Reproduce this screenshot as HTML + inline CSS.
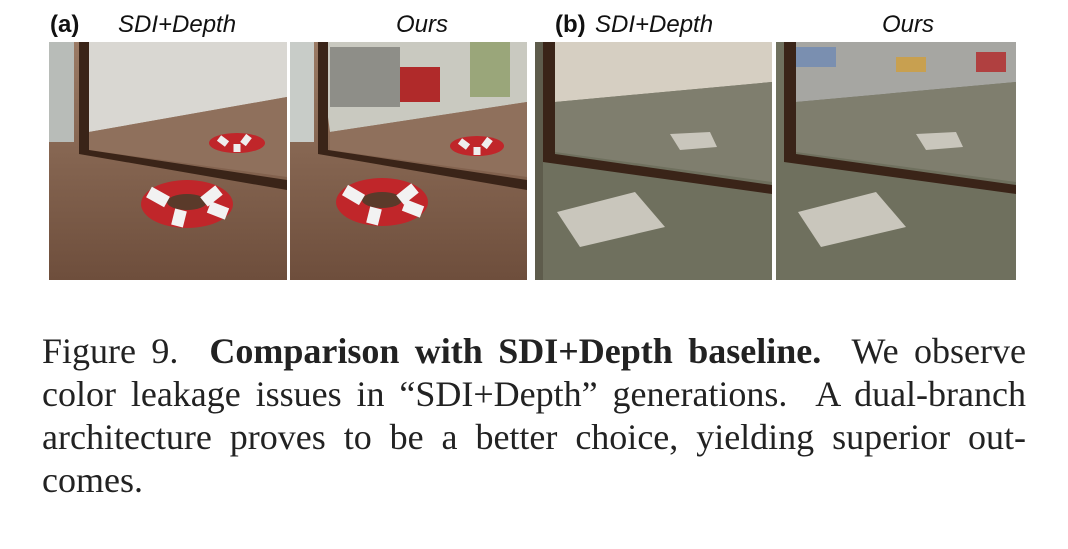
<!DOCTYPE html>
<html><head><meta charset="utf-8"><style>
html,body{margin:0;padding:0;background:#fff;width:1068px;height:549px;overflow:hidden;position:relative}
.lab{position:absolute;top:11px;font-family:"Liberation Sans",sans-serif;font-size:24px;color:#111}
.it{font-style:italic}
svg{position:absolute;top:42px}
.cap{position:absolute;left:42px;top:330px;width:984px;font-family:"Liberation Serif",serif;font-size:36px;line-height:43px;color:#222}
.cap div{text-align:justify;text-align-last:justify;white-space:nowrap}
.cap div.l{text-align-last:left}
</style></head><body>
<div class="lab" style="left:50px;font-weight:bold">(a)</div>
<div class="lab it" style="left:118px">SDI+Depth</div>
<div class="lab it" style="left:396px">Ours</div>
<div class="lab" style="left:555px;font-weight:bold">(b)</div>
<div class="lab it" style="left:595px">SDI+Depth</div>
<div class="lab it" style="left:882px">Ours</div>

<svg style="left:49px" width="238" height="238">
<defs><linearGradient id="w" x1="0" y1="0" x2="0" y2="1"><stop offset="0" stop-color="#9a7a64"/><stop offset="1" stop-color="#6e4e3c"/></linearGradient></defs>
<rect width="238" height="238" fill="url(#w)"/>
<polygon points="0,0 238,0 238,55 40,90 30,0" fill="#d9d7d2"/>
<polygon points="40,90 238,55 238,135 40,108" fill="#8f705c"/>
<rect x="0" y="0" width="25" height="100" fill="#b8bcb8"/>
<polygon points="30,0 40,0 40,108 238,138 238,148 30,112" fill="#3a2418"/>
<ellipse cx="138" cy="162" rx="46" ry="24" fill="#c0262a"/><ellipse cx="138" cy="160" rx="20" ry="8" fill="#5a3a2a"/>
<path d="M100 150 L118 160 M170 148 L155 160 M128 184 L132 168 M178 172 L160 165" stroke="#f2f2f2" stroke-width="12"/>
<ellipse cx="188" cy="101" rx="28" ry="10" fill="#c0262a"/><path d="M170 96l8 6M200 94l-6 8M188 110v-8" stroke="#eee" stroke-width="7"/>
</svg>
<svg style="left:290px" width="237" height="238">
<rect width="237" height="238" fill="url(#w)"/>
<polygon points="0,0 237,0 237,60 40,90 28,0" fill="#c9c9c0"/>
<rect x="40" y="5" width="70" height="60" fill="#8e8e88"/><rect x="110" y="25" width="40" height="35" fill="#b02a2a"/><rect x="180" y="0" width="40" height="55" fill="#9aa67a"/>
<polygon points="40,90 237,60 237,135 40,108" fill="#8f705c"/>
<rect x="0" y="0" width="24" height="100" fill="#c8ccc8"/>
<polygon points="28,0 38,0 38,108 237,138 237,148 28,112" fill="#3a2418"/>
<ellipse cx="92" cy="160" rx="46" ry="24" fill="#c0262a"/><ellipse cx="92" cy="158" rx="20" ry="8" fill="#5a3a2a"/>
<path d="M55 148 L72 158 M125 146 L110 158 M82 182 L86 166 M132 170 L114 163" stroke="#f2f2f2" stroke-width="12"/>
<ellipse cx="187" cy="104" rx="27" ry="10" fill="#c0262a"/><path d="M170 99l8 6M200 97l-6 8M187 113v-8" stroke="#eee" stroke-width="7"/>
</svg>
<svg style="left:535px" width="237" height="238">
<rect width="237" height="238" fill="#6f705e"/>
<polygon points="20,0 237,0 237,40 20,60" fill="#d6cfc2"/>
<polygon points="20,60 237,40 237,140 20,110" fill="#7f7e6e"/>
<rect x="0" y="0" width="8" height="238" fill="#5e5c4c"/>
<polygon points="8,0 20,0 20,112 237,143 237,152 8,120" fill="#3a2418"/>
<polygon points="135,92 175,90 182,105 145,108" fill="#c9c6bc"/>
<polygon points="22,170 100,150 130,185 45,205" fill="#c9c6bc"/>
</svg>
<svg style="left:776px" width="240" height="238">
<rect width="240" height="238" fill="#6f705e"/>
<polygon points="20,0 240,0 240,40 20,60" fill="#a6a6a2"/>
<rect x="20" y="5" width="40" height="20" fill="#7a8fb0"/><rect x="120" y="15" width="30" height="15" fill="#c8a050"/><rect x="200" y="10" width="30" height="20" fill="#b04040"/>
<polygon points="20,60 240,40 240,140 20,110" fill="#7f7e6e"/>
<polygon points="8,0 20,0 20,112 240,143 240,152 8,120" fill="#3a2418"/>
<polygon points="140,92 180,90 187,105 150,108" fill="#c9c6bc"/>
<polygon points="22,170 100,150 130,185 45,205" fill="#c9c6bc"/>
</svg>
<div class="cap">
<div>Figure 9.&nbsp; <b>Comparison with SDI+Depth baseline.</b>&nbsp; We observe</div>
<div>color leakage issues in “SDI+Depth” generations.&nbsp; A dual-branch</div>
<div>architecture proves to be a better choice, yielding superior out-</div>
<div class="l">comes.</div>
</div>
</body></html>
